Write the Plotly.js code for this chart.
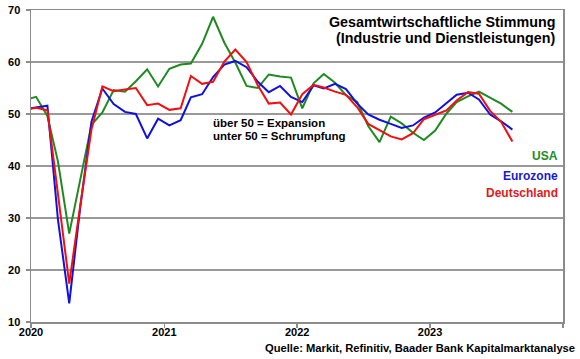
<!DOCTYPE html>
<html><head><meta charset="utf-8">
<script src="https://cdn.plot.ly/plotly-3.0.1.min.js"></script>
<style>html,body{margin:0;padding:0;background:#fff}</style>
</head><body><div id="chart" style="width:580px;height:359px"></div>
<script>
// Monthly values, Dec 2019 .. Aug 2023
const startMonth = "2019-12";
const usa = [52.7,53.3,49.6,40.9,27.0,37.0,47.9,50.3,54.6,54.3,56.3,58.6,55.3,
  58.7,59.5,59.7,63.5,68.7,63.7,59.9,55.4,55.0,57.6,57.2,57.0,
  51.1,55.9,57.7,56.0,53.6,52.3,47.7,44.6,49.5,48.2,46.4,45.0,
  46.8,50.1,52.3,53.4,54.3,53.2,52.0,50.4];
const eurozone = [50.9,51.3,51.6,29.7,13.6,31.9,48.5,54.9,51.9,50.4,50.0,45.3,49.1,
  47.8,48.8,53.2,53.8,57.1,59.5,60.2,59.0,56.2,54.2,55.4,53.3,
  52.3,55.5,54.9,55.8,54.8,52.0,49.9,48.9,48.1,47.3,47.8,49.3,
  50.3,52.0,53.7,54.1,52.8,49.9,48.6,47.0];
const deutschland = [50.8,51.2,50.7,35.0,17.4,32.3,47.0,55.3,54.4,54.7,55.0,51.7,52.0,
  50.8,51.1,57.3,55.8,56.2,60.1,62.4,60.0,55.5,52.0,52.2,49.9,
  53.8,55.6,55.1,54.3,53.7,51.3,48.1,46.9,45.7,45.1,46.3,49.0,
  49.9,50.7,52.6,54.2,53.9,50.6,48.5,44.7];
const yearTicks = ["2020","2021","2022","2023","2024"];
const yearLabels = ["2020","2021","2022","2023",""];
const seriesNames = ["USA","Eurozone","Deutschland"];

function monthDates(start, n){
  let [y,m] = start.split("-").map(Number);
  const out = [];
  for(let i=0;i<n;i++){
    out.push(y+"-"+String(m).padStart(2,"0")+"-15");
    m++; if(m>12){m=1;y++;}
  }
  return out;
}
const dates = monthDates(startMonth, usa.length);

const W=580,H=359,L=31,R=17,T=10,B=37;
const pw=W-L-R, ph=H-T-B;
const px = x => (x-L)/pw;
const py = y => 1-(y-T)/ph;

const colors = {USA:"#1f8a1f", Eurozone:"#1010e0", Deutschland:"#f01010"};
const textColors = {USA:"#228b22", Eurozone:"#1a1ad0", Deutschland:"#e21a1a"};
const FONT = "Liberation Sans, Arial, sans-serif";

const traces = [
  {x:dates, y:usa, name:"USA", mode:"lines", line:{color:colors.USA, width:2}},
  {x:dates, y:eurozone, name:"Eurozone", mode:"lines", line:{color:colors.Eurozone, width:2}},
  {x:dates, y:deutschland, name:"Deutschland", mode:"lines", line:{color:colors.Deutschland, width:2}}
];

const bold = (size,color)=>({family:FONT,size:size,color:color||"#000",weight:"bold"});

const layout = {
  width:W, height:H, autosize:false,
  margin:{l:L,r:R,t:T,b:B,pad:0},
  paper_bgcolor:"#fff", plot_bgcolor:"#fff",
  showlegend:false,
  xaxis:{type:"date", range:["2020-01-01","2024-01-01"], tickmode:"array",
    tickvals:yearTicks.map(y=>y+"-01-01"), ticktext:yearLabels,
    showgrid:false, zeroline:false, showline:true, linecolor:"#8c8c8c", linewidth:1.5,
    mirror:true, ticks:"outside", ticklen:4, tickcolor:"#8c8c8c", tickwidth:1.5,
    ticklabelstandoff:-5, tickfont:bold(11), fixedrange:true},
  yaxis:{range:[10,70], tickmode:"linear", tick0:10, dtick:10,
    showgrid:true, gridcolor:"#9a9a9a", gridwidth:1.5, zeroline:false,
    showline:true, linecolor:"#8c8c8c", linewidth:1.5, mirror:true,
    ticks:"outside", ticklen:4, tickcolor:"#8c8c8c", tickwidth:1.5,
    ticklabelstandoff:3, tickfont:bold(11), fixedrange:true},
  shapes:[{type:"line", xref:"paper", x0:0, x1:1, yref:"y", y0:50, y1:50,
    line:{color:"#000", width:2}, layer:"below"}],
  annotations:[
    {xref:"paper",yref:"paper",x:px(557),y:py(22),xanchor:"right",yanchor:"middle",
     text:"Gesamtwirtschaftliche Stimmung",showarrow:false,font:bold(14.3)},
    {xref:"paper",yref:"paper",x:px(557),y:py(38),xanchor:"right",yanchor:"middle",
     text:"(Industrie und Dienstleistungen)",showarrow:false,font:bold(14.3)},
    {xref:"paper",yref:"paper",x:px(211),y:py(122.5),xanchor:"left",yanchor:"middle",
     text:"über 50 = Expansion",showarrow:false,font:bold(11.5)},
    {xref:"paper",yref:"paper",x:px(211),y:py(136),xanchor:"left",yanchor:"middle",
     text:"unter 50 = Schrumpfung",showarrow:false,font:bold(11.5)},
    {xref:"paper",yref:"paper",x:px(560),y:py(156),xanchor:"right",yanchor:"middle",
     text:seriesNames[0],showarrow:false,font:bold(12,textColors.USA)},
    {xref:"paper",yref:"paper",x:px(560),y:py(176),xanchor:"right",yanchor:"middle",
     text:seriesNames[1],showarrow:false,font:bold(12,textColors.Eurozone)},
    {xref:"paper",yref:"paper",x:px(560),y:py(192.5),xanchor:"right",yanchor:"middle",
     text:seriesNames[2],showarrow:false,font:bold(12,textColors.Deutschland)},
    {xref:"paper",yref:"paper",x:px(577),y:py(347.5),xanchor:"right",yanchor:"middle",
     text:"Quelle: Markit, Refinitiv, Baader Bank Kapitalmarktanalyse",showarrow:false,font:bold(11.2)}
  ]
};

Plotly.newPlot("chart", traces, layout, {staticPlot:true, displayModeBar:false});
</script></body></html>
